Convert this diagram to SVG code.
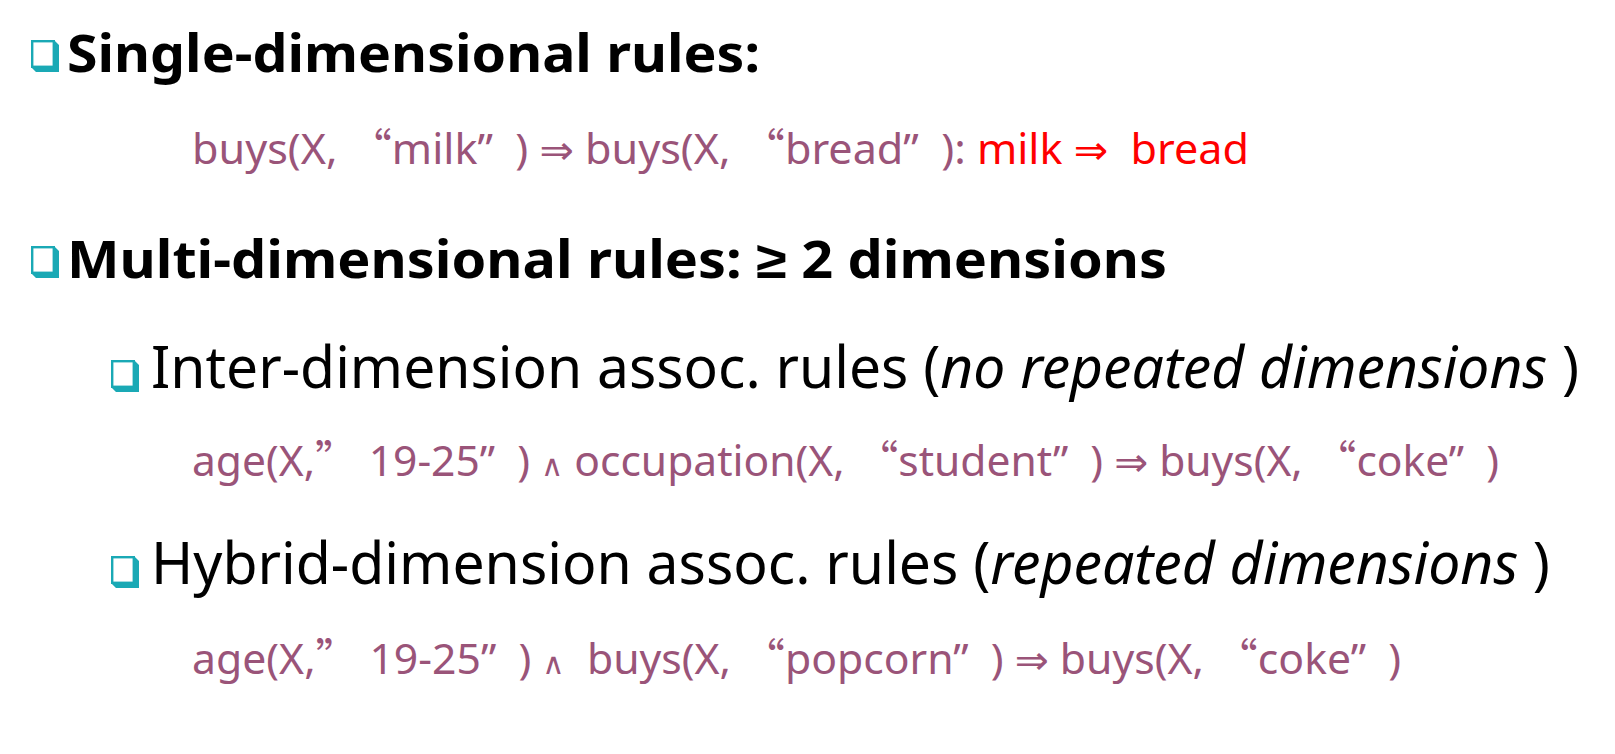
<svg xmlns="http://www.w3.org/2000/svg" width="1615" height="754" viewBox="0 0 1615 754">
<style>
.h{font-family:"Noto Sans","Liberation Sans",sans-serif;font-weight:bold;font-size:52px;fill:#000}
.s{font-family:"Noto Sans","Liberation Sans",sans-serif;font-size:58px;fill:#000}
.f{font-family:"Noto Sans","DejaVu Sans","Liberation Sans",sans-serif;font-size:42px;fill:#9A5479}
.q{font-family:"Noto Sans CJK SC",sans-serif}
.sym{font-family:"DejaVu Sans",sans-serif;font-size:40px}
.w{font-family:"DejaVu Sans",sans-serif;font-size:30px}
.r{fill:#FF0000}
.i{font-style:italic}
</style>
<defs>
<g id="bul">
<polygon points="23,0 28,5 28,32 5,32 0,27 23,27" fill="#1AA9B5"/>
<rect x="1.2" y="1.2" width="21.6" height="25.6" fill="#fff" stroke="#1AA9B5" stroke-width="2.4"/>
</g>
</defs>
<g id="line1">
<use href="#bul" x="31" y="40"/>
<text class="h" x="67" y="72" textLength="693" lengthAdjust="spacingAndGlyphs">Single-dimensional rules:</text>
</g>
<g id="line2">
<text class="f" x="192" y="164" textLength="1057" lengthAdjust="spacingAndGlyphs">buys(X, <tspan class="q">“</tspan>milk”&#160; ) <tspan class="sym">⇒</tspan> buys(X, <tspan class="q">“</tspan>bread”&#160; ): <tspan class="r">milk&#160;</tspan><tspan class="r sym">⇒</tspan><tspan class="r">&#160; bread</tspan></text>
</g>
<g id="line3">
<use href="#bul" x="31" y="246"/>
<text class="h" x="67" y="278" textLength="1100" lengthAdjust="spacingAndGlyphs">Multi-dimensional rules: ≥ 2 dimensions</text>
</g>
<g id="line4">
<use href="#bul" x="111" y="360"/>
<text class="s" x="151" y="388" textLength="1428" lengthAdjust="spacingAndGlyphs">Inter-dimension assoc. rules (<tspan class="i">no repeated dimensions</tspan> )</text>
</g>
<g id="line5">
<text class="f" x="192" y="476" textLength="1307" lengthAdjust="spacingAndGlyphs">age(X,<tspan class="q">”</tspan> 19-25”&#160; ) <tspan class="w">∧</tspan> occupation(X, <tspan class="q">“</tspan>student”&#160; ) <tspan class="sym">⇒</tspan> buys(X, <tspan class="q">“</tspan>coke”&#160; )</text>
</g>
<g id="line6">
<use href="#bul" x="111" y="556"/>
<text class="s" x="151" y="584" textLength="1399" lengthAdjust="spacingAndGlyphs">Hybrid-dimension assoc. rules (<tspan class="i">repeated dimensions</tspan> )</text>
</g>
<g id="line7">
<text class="f" x="192" y="674" textLength="1209" lengthAdjust="spacingAndGlyphs">age(X,<tspan class="q">”</tspan> 19-25”&#160; ) <tspan class="w">∧</tspan>&#160; buys(X, <tspan class="q">“</tspan>popcorn”&#160; ) <tspan class="sym">⇒</tspan> buys(X, <tspan class="q">“</tspan>coke”&#160; )</text>
</g>
</svg>
